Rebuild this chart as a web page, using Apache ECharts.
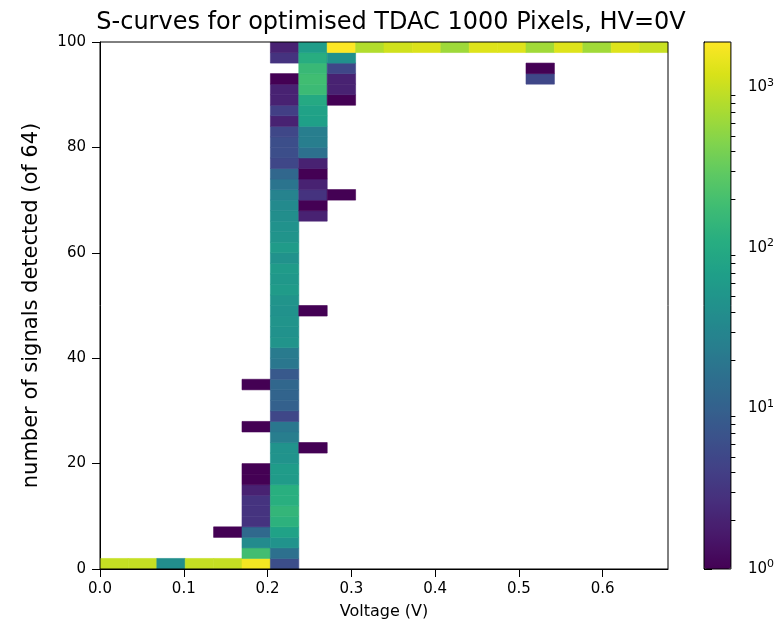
<!DOCTYPE html>
<html><head><meta charset="utf-8">
<script src="https://cdn.jsdelivr.net/npm/echarts@6/dist/echarts.min.js"></script>
<style>html,body{margin:0;padding:0;background:#fff}#c{width:777px;height:632px}</style>
</head><body><div id="c"></div>
<script>
// ---------- texts ----------
const TITLE = 'S-curves for optimised TDAC 1000 Pixels, HV=0V';
const X_NAME = 'Voltage (V)';
const Y_NAME = 'number of signals detected (of 64)';

// ---------- axes / ticks ----------
const X_MAX = 0.678;
const Y_MAX = 100;
const X_TICKS = [0, 0.1, 0.2, 0.3, 0.4, 0.5, 0.6];
const Y_TICKS = [0, 20, 40, 60, 80, 100];
const CBAR_MIN = 1;
const CBAR_MAX = 1920;
const CBAR_MAJOR = [1, 10, 100, 1000];
const CBAR_MINOR = [2, 3, 4, 5, 6, 7, 8, 9, 20, 30, 40, 50, 60, 70, 80, 90, 200, 300, 400, 500, 600, 700, 800, 900];

// ---------- histogram bins ----------
const SIGNAL_BIN_WIDTH = 2;
const VOLT_BIN_WIDTH = 0.0339;
const VOLT_BINS = [0.0000, 0.0339, 0.0678, 0.1017, 0.1356, 0.1695, 0.2034, 0.2373, 0.2712, 0.3051,
                   0.3390, 0.3729, 0.4068, 0.4407, 0.4746, 0.5085, 0.5424, 0.5763, 0.6102, 0.6441];

// counts per voltage bin: [signal bin lower edge, number of pixels]
const bin00 = [[0, 975]];
const bin01 = [[0, 975]];
const bin02 = [[0, 40]];
const bin03 = [[0, 975]];
const bin04 = [[0, 975], [6, 1]];
const bin05 = [[0, 1700], [2, 190], [4, 36], [6, 13], [8, 3], [10, 3], [12, 3], [14, 2], [16, 1], [18, 1], [26, 1], [34, 1]];
const bin06 = [[0, 6], [2, 16], [4, 46], [6, 75], [8, 125], [10, 145], [12, 115], [14, 115], [16, 60], [18, 62],
               [20, 46], [22, 46], [24, 24], [26, 20], [28, 5], [30, 10], [32, 11], [34, 12], [36, 8], [38, 20],
               [40, 22], [42, 48], [44, 45], [46, 48], [48, 45], [50, 48], [52, 60], [54, 55], [56, 60], [58, 45],
               [60, 60], [62, 48], [64, 45], [66, 40], [68, 35], [70, 28], [72, 18], [74, 12], [76, 5], [78, 6],
               [80, 6], [82, 5], [84, 2], [86, 4], [88, 2], [90, 2], [92, 1], [96, 3], [98, 2]];
const bin07 = [[22, 1], [48, 1], [66, 2], [68, 1], [70, 3], [72, 2], [74, 1], [76, 2], [78, 16], [80, 24],
               [82, 24], [84, 70], [86, 75], [88, 95], [90, 170], [92, 185], [94, 160], [96, 110], [98, 64]];
const bin08 = [[70, 1], [88, 1], [90, 2], [92, 2], [94, 5], [96, 44], [98, 1920]];
const bin09 = [[98, 790]];
const bin10 = [[98, 1100]];
const bin11 = [[98, 1250]];
const bin12 = [[98, 630]];
const bin13 = [[98, 1300]];
const bin14 = [[98, 1300]];
const bin15 = [[92, 5], [94, 1], [98, 650]];
const bin16 = [[98, 1300]];
const bin17 = [[98, 650]];
const bin18 = [[98, 1300]];
const bin19 = [[98, 1000]];
const BIN_COUNTS = [bin00, bin01, bin02, bin03, bin04, bin05, bin06, bin07, bin08, bin09,
                    bin10, bin11, bin12, bin13, bin14, bin15, bin16, bin17, bin18, bin19];

const VIRIDIS = ['#440154', '#48186a', '#472d7b', '#424086', '#3b528b', '#33638d', '#2c728e', '#26828e',
                 '#21918c', '#1fa088', '#28ae80', '#3fbc73', '#5ec962', '#84d44b', '#addc30', '#d8e219', '#fde725'];

// ---------- build ----------
const FONT = 'DejaVu Sans';
const cells = [];
BIN_COUNTS.forEach((col, i) => {
  col.forEach(([s, n]) => cells.push([VOLT_BINS[i], s, n, Math.log10(n)]));
});

const chart = echarts.init(document.getElementById('c'), null, {renderer: 'canvas'});
const L = Math.log10;
chart.setOption({
  animation: false,
  backgroundColor: '#fff',
  textStyle: {fontFamily: FONT, color: '#000'},
  title: {
    text: TITLE, left: 386, top: 6, textAlign: 'center',
    textStyle: {fontFamily: FONT, fontWeight: 'normal', fontSize: 24, color: '#000'}
  },
  grid: [
    {left: 100, top: 42, width: 568, height: 527, show: true, borderColor: '#000', borderWidth: 1, z: 5,
     backgroundColor: 'transparent'},
    {left: 704, top: 42, width: 27, height: 527, show: true, borderColor: '#000', borderWidth: 1, z: 10,
     backgroundColor: 'transparent'}
  ],
  xAxis: [
    {type: 'value', gridIndex: 0, min: 0, max: X_MAX,
     name: X_NAME, nameLocation: 'middle', nameGap: 35,
     nameTextStyle: {fontFamily: FONT, fontSize: 16, color: '#000'},
     axisLine: {lineStyle: {color: '#000', width: 1}},
     axisTick: {customValues: X_TICKS, length: 8, lineStyle: {color: '#000'}},
     axisLabel: {customValues: X_TICKS, margin: 13, fontFamily: FONT, fontSize: 15, color: '#000',
                 formatter: v => v.toFixed(1)},
     splitLine: {show: false}},
    {type: 'value', gridIndex: 1, min: 0, max: 1, show: false}
  ],
  yAxis: [
    {type: 'value', gridIndex: 0, min: 0, max: Y_MAX,
     name: Y_NAME, nameLocation: 'middle', nameGap: 58,
     nameTextStyle: {fontFamily: FONT, fontSize: 21, color: '#000'},
     axisLine: {show: true, lineStyle: {color: '#000', width: 1}},
     axisTick: {show: true, customValues: Y_TICKS, length: 8, lineStyle: {color: '#000'}},
     axisLabel: {customValues: Y_TICKS, margin: 14, fontFamily: FONT, fontSize: 15, color: '#000'},
     splitLine: {show: false}},
    {type: 'value', gridIndex: 1, position: 'right', min: 0, max: L(CBAR_MAX),
     axisLine: {show: true, lineStyle: {color: '#000'}},
     axisTick: {show: true, customValues: CBAR_MAJOR.map(L), length: 8, lineStyle: {color: '#000'}},
     axisLabel: {customValues: CBAR_MAJOR.map(L), margin: 17, color: '#000',
       formatter: v => '{b|10}{s|' + Math.round(v) + '}',
       rich: {b: {fontFamily: FONT, fontSize: 15, color: '#000'},
              s: {fontFamily: FONT, fontSize: 11, color: '#000', padding: [0, 0, 9, 0]}}},
     splitLine: {show: false}},
    {type: 'value', gridIndex: 1, position: 'right', min: 0, max: L(CBAR_MAX),
     axisLine: {show: false},
     axisTick: {show: true, customValues: CBAR_MINOR.map(L), length: 4.5, lineStyle: {color: '#000'}},
     axisLabel: {show: false},
     splitLine: {show: false}}
  ],
  visualMap: {
    type: 'continuous', dimension: 3, seriesIndex: 0,
    min: L(CBAR_MIN), max: L(CBAR_MAX),
    inRange: {color: VIRIDIS},
    orient: 'vertical', left: 704, top: 42, itemWidth: 27, itemHeight: 527,
    padding: 0, calculable: false, text: null, showLabel: false, hoverLink: false
  },
  series: [{
    type: 'custom', xAxisIndex: 0, yAxisIndex: 0,
    coordinateSystem: 'cartesian2d', clip: true,
    encode: {x: 0, y: 1},
    data: cells,
    renderItem: (params, api) => {
      const x0 = api.value(0), y0 = api.value(1);
      const a = api.coord([x0, y0]);
      const b = api.coord([x0 + VOLT_BIN_WIDTH, y0 + SIGNAL_BIN_WIDTH]);
      const c = api.visual('color');
      return {
        type: 'rect',
        shape: {x: a[0], y: b[1], width: b[0] - a[0], height: a[1] - b[1]},
        style: {fill: c, stroke: c, lineWidth: 0.6}
      };
    }
  }]
});
</script>
</body></html>
